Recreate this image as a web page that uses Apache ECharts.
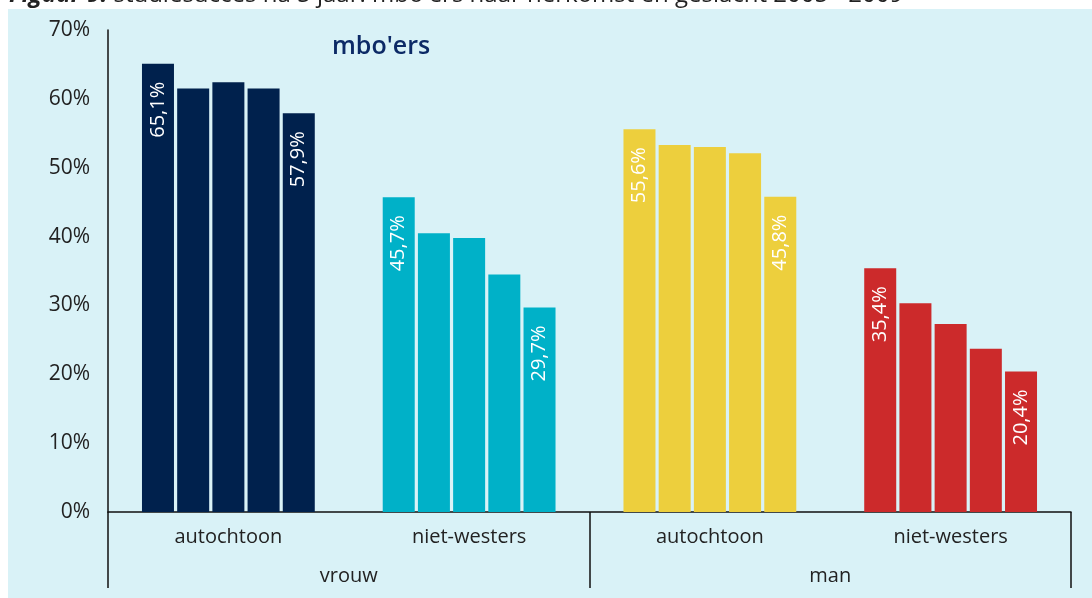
<!DOCTYPE html>
<html>
<head>
<meta charset="utf-8">
<script src="https://cdn.jsdelivr.net/npm/echarts@6/dist/echarts.min.js"></script>
<style>
  html, body { margin: 0; padding: 0; background: #fff; }
  #chart { width: 1092px; height: 598px; }
</style>
</head>
<body>
<div id="chart"></div>
<script>
// categories (herkomst) and groups (geslacht)
const categories = ['autochtoon', 'niet-westers', 'autochtoon', 'niet-westers']
const groups = ['vrouw', 'man']
const years = ['2005', '2006', '2007', '2008', '2009']

// studiesucces per cohort, one array per year, in category order
const y2005 = [65.1, 45.7, 55.6, 35.4]
const y2006 = [61.5, 40.5, 53.3, 30.3]
const y2007 = [62.4, 39.8, 53.0, 27.3]
const y2008 = [61.5, 34.5, 52.1, 23.7]
const y2009 = [57.9, 29.7, 45.8, 20.4]

const yTicks = [0, 10, 20, 30, 40, 50, 60, 70]

const barColors = ['#00214d', '#00b1c8', '#edcf3d', '#cc2a2b']
const fontFamily = '"Open Sans", sans-serif'

const chart = echarts.init(document.getElementById('chart'))

const seriesData = [y2005, y2006, y2007, y2008, y2009]

const series = seriesData.map((values, i) => {
  const labelled = i === 0 || i === seriesData.length - 1
  return {
    name: years[i],
    type: 'bar',
    barWidth: 32,
    barGap: '10%',
    data: values,
    itemStyle: {
      color: (p) => barColors[p.dataIndex]
    },
    label: {
      show: labelled,
      position: 'insideTop',
      rotate: 90,
      align: 'right',
      verticalAlign: 'middle',
      distance: 18,
      color: '#ffffff',
      fontFamily: fontFamily,
      fontSize: 20,
      formatter: (p) => p.value.toFixed(1).replace('.', ',') + '%'
    }
  }
})

const option = {
  animation: false,
  backgroundColor: '#ffffff',
  title: {
    text: "mbo'ers",
    left: 327,
    top: 29,
    textStyle: {
      color: '#0c2a66',
      fontFamily: fontFamily,
      fontSize: 25,
      fontWeight: 600
    }
  },
  graphic: [
    {
      type: 'text',
      left: 9,
      top: -17,
      z: 1,
      style: {
        text: '{b|Figuur 9:}{n| studiesucces na 5 jaar: mbo\'ers naar herkomst en geslacht 2005 - 2009}',
        fontFamily: fontFamily,
        fontSize: 24,
        fontWeight: 'normal',
        fill: '#222',
        rich: {
          b: {
            fontFamily: fontFamily,
            fontSize: 24,
            fontWeight: 'bold',
            fontStyle: 'italic',
            color: '#00a3c9'
          },
          n: {
            fontFamily: fontFamily,
            fontSize: 24,
            fontWeight: 'normal',
            color: '#222'
          }
        }
      }
    },
    {
      type: 'rect',
      shape: { x: 8, y: 9, width: 1084, height: 589 },
      style: { fill: '#d9f2f7' },
      z: -10,
      silent: true
    }
  ],
  grid: {
    left: 108,
    right: 21,
    top: 30,
    bottom: 86,
    containLabel: false
  },
  xAxis: [
    {
      type: 'category',
      data: categories,
      axisLine: { lineStyle: { color: '#111', width: 1.5 } },
      axisTick: { show: false },
      axisLabel: {
        color: '#222',
        fontFamily: fontFamily,
        fontSize: 20,
        margin: 15
      }
    },
    {
      type: 'category',
      data: groups,
      position: 'bottom',
      offset: 76,
      axisLine: { show: false },
      axisTick: {
        show: true,
        inside: true,
        length: 76,
        lineStyle: { color: '#111', width: 1.5 }
      },
      axisLabel: {
        inside: true,
        margin: 2,
        color: '#222',
        fontFamily: fontFamily,
        fontSize: 20
      }
    }
  ],
  yAxis: {
    type: 'value',
    min: yTicks[0],
    max: yTicks[yTicks.length - 1],
    interval: 10,
    axisLine: { show: true, lineStyle: { color: '#111', width: 1.5 } },
    axisTick: { show: false },
    splitLine: { show: false },
    axisLabel: {
      color: '#222',
      fontFamily: fontFamily,
      fontSize: 21,
      margin: 18,
      formatter: '{value}%'
    }
  },
  series: series
}

chart.setOption(option)
</script>
</body>
</html>
